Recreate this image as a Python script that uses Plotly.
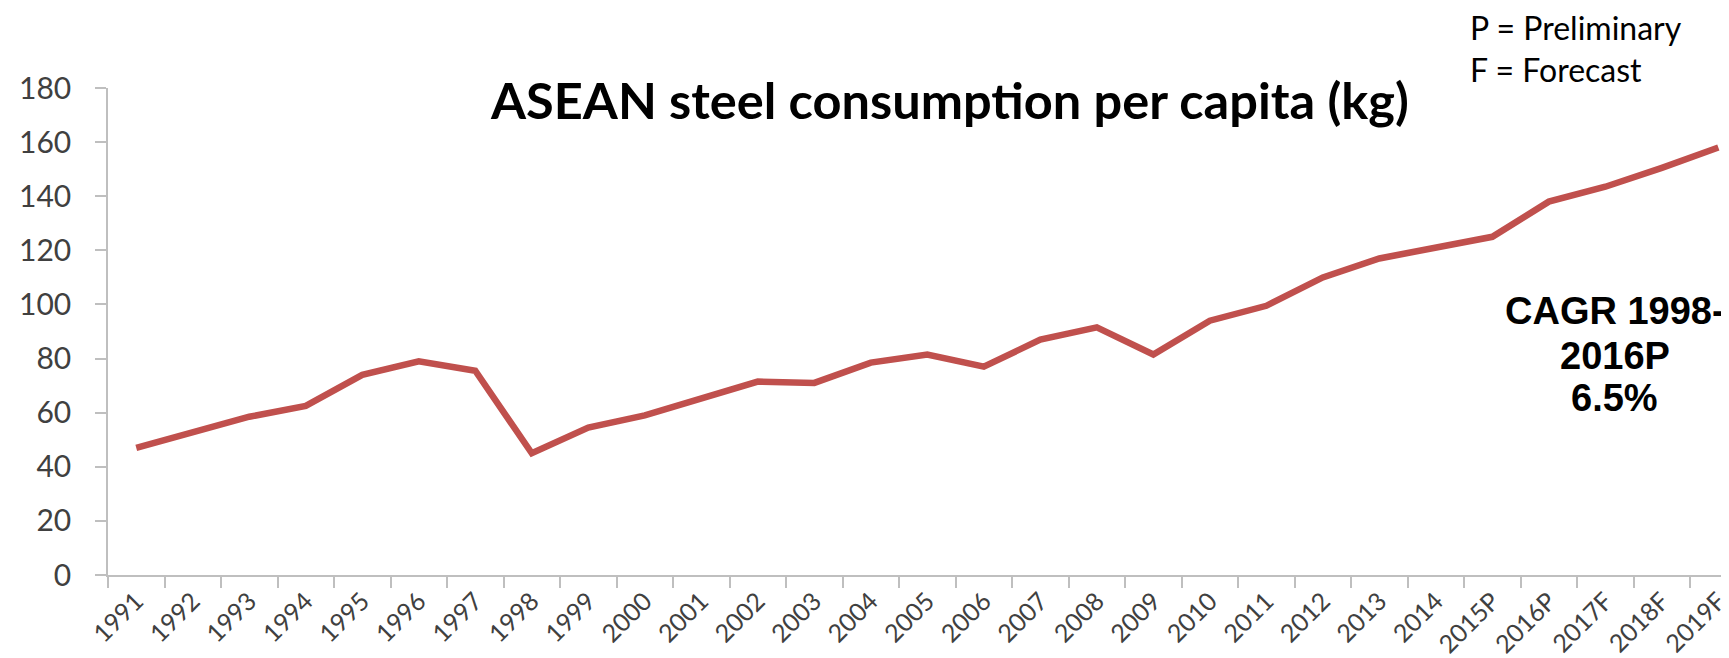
import plotly.graph_objects as go

years = ["1991", "1992", "1993", "1994", "1995", "1996", "1997", "1998", "1999",
         "2000", "2001", "2002", "2003", "2004", "2005", "2006", "2007", "2008",
         "2009", "2010", "2011", "2012", "2013", "2014", "2015P", "2016P",
         "2017F", "2018F", "2019F"]
consumption = [47, 52.5, 58.5, 62.5, 74, 79, 75.5, 45, 54.5,
               59, 65, 71.5, 71, 78.5, 81.5, 77, 87, 91.5,
               81.5, 94, 99.5, 110, 117, 121, 125, 138,
               143.5, 150.5, 158]
y_ticks = [0, 20, 40, 60, 80, 100, 120, 140, 160, 180]

title_text = "ASEAN steel consumption per capita (kg)"
note_lines = ["P = Preliminary", "F = Forecast"]
note_y = [1.124, 1.039]
cagr_lines = ["CAGR 1998-", "2016P", "6.5%"]
cagr_y = [0.5415, 0.449, 0.364]

W, H = 1729, 658
fig = go.Figure()
fig.add_trace(go.Scatter(
    x=years, y=consumption, mode="lines",
    line=dict(color="#C0504D", width=6.5),
    hoverinfo="skip", showlegend=False,
))

axis_grey = "#BFBFBF"
lato = "Lato, Carlito, sans-serif"

annotations = [
    dict(text="<b>" + title_text + "</b>", xref="paper", yref="paper",
         x=0.5166, y=0.976, xanchor="center", yanchor="middle",
         showarrow=False, font=dict(family=lato, size=50.5, color="black")),
]
for line, yy in zip(note_lines, note_y):
    annotations.append(dict(
        text=line, xref="paper", yref="paper",
        x=0.835, y=yy, xanchor="left", yanchor="middle", align="left",
        showarrow=False, font=dict(family=lato, size=32, color="black")))
for line, yy in zip(cagr_lines, cagr_y):
    annotations.append(dict(
        text="<b>" + line + "</b>", xref="paper", yref="paper",
        x=0.925, y=yy, xanchor="center", yanchor="middle", align="center",
        showarrow=False,
        font=dict(family="Liberation Sans, Arial, sans-serif", size=38, color="black")))

fig.update_layout(
    width=W, height=H,
    margin=dict(l=100, r=0, t=80, b=91, autoexpand=False),
    paper_bgcolor="white", plot_bgcolor="white",
    showlegend=False,
    xaxis=dict(
        type="category", range=[-0.5, 28.33], automargin=False,
        tickson="boundaries", ticks="outside", ticklen=11, tickcolor=axis_grey,
        tickwidth=1.5,
        showline=True, linecolor=axis_grey, linewidth=1.5,
        showgrid=False, zeroline=False,
        tickangle=-45, tickfont=dict(family=lato, size=25, color="#404040"),
    ),
    yaxis=dict(
        range=[0, 180], tickvals=y_ticks, ticktext=[str(v) for v in y_ticks],
        automargin=False,
        ticks="outside", ticklen=11, tickcolor=axis_grey, tickwidth=1.5,
        showline=True, linecolor=axis_grey, linewidth=1.5,
        showgrid=False, zeroline=False,
        tickfont=dict(family=lato, size=30, color="#404040"), ticklabelstandoff=18,
    ),
    annotations=annotations,
)

fig.write_html("out.html")
